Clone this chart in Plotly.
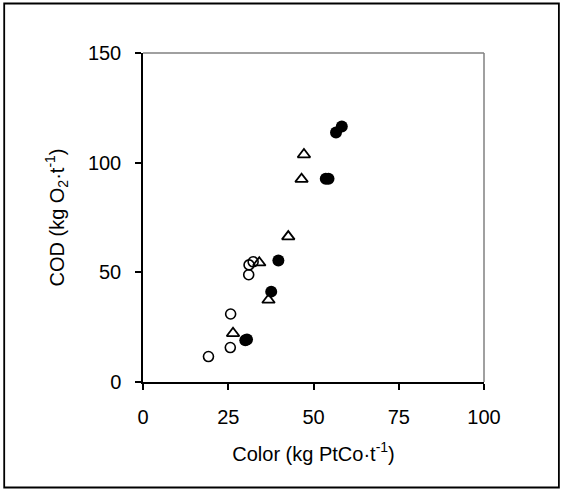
import plotly.graph_objects as go

# Open circles
open_x = [19.2, 25.6, 25.7, 31.0, 31.1, 32.3]
open_y = [11.6, 15.7, 31.0, 48.9, 53.4, 54.8]
# Open triangles
tri_x = [26.4, 34.1, 36.8, 42.6, 46.5, 47.2]
tri_y = [22.2, 54.4, 37.4, 66.3, 92.5, 103.7]
# Filled circles
fill_x = [30.0, 30.5, 37.6, 39.7, 53.6, 54.4, 56.6, 58.3]
fill_y = [19.0, 19.4, 41.2, 55.4, 92.7, 92.7, 113.8, 116.5]

x_ticks = [0, 25, 50, 75, 100]
y_ticks = [0, 50, 100, 150]

fig = go.Figure()
fig.add_trace(go.Scatter(x=open_x, y=open_y, mode="markers",
                         marker=dict(symbol="circle-open", size=10, color="black", line=dict(width=1.6))))
fig.add_trace(go.Scatter(x=tri_x, y=tri_y, mode="markers",
                         marker=dict(symbol="triangle-up-open", size=11, color="black", line=dict(width=1.8))))
fig.add_trace(go.Scatter(x=fill_x, y=fill_y, mode="markers",
                         marker=dict(symbol="circle", size=12, color="black")))

font = dict(family="Liberation Sans, Arial, sans-serif", size=20, color="black")

W, H = 562, 491
ml, mr, mt, mb = 142.5, 78, 53, 109
pw, ph = W - ml - mr, H - mt - mb

def px(x):
    return (x - ml) / pw

def py(y):
    return (H - mb - y) / ph

fig.update_layout(
    width=W, height=H,
    margin=dict(l=ml, r=mr, t=mt, b=mb),
    paper_bgcolor="white", plot_bgcolor="white",
    showlegend=False,
    font=font,
    xaxis=dict(range=[0, 100], tickvals=x_ticks, showgrid=False, zeroline=False,
               showline=True, linecolor="black", linewidth=1.5,
               ticks="outside", ticklen=6, tickwidth=1.5, tickcolor="black",
               tickfont=font, ticklabelstandoff=10,
               title=dict(text="Color (kg PtCo·t<sup>-1</sup>)", font=font, standoff=20)),
    yaxis=dict(range=[0, 150], tickvals=y_ticks, showgrid=False, zeroline=False,
               showline=True, linecolor="black", linewidth=1.5,
               ticks="outside", ticklen=6, tickwidth=1.5, tickcolor="black",
               tickfont=font, ticklabelstandoff=10,
               title=dict(text="COD (kg O<sub>2</sub>·t<sup>-1</sup>)", font=font, standoff=18)),
    shapes=[
        dict(type="line", xref="paper", yref="paper", x0=0, x1=1, y0=1, y1=1,
             line=dict(color="#808080", width=1.5)),
        dict(type="line", xref="paper", yref="paper", x0=1, x1=1, y0=0, y1=1,
             line=dict(color="#808080", width=1.5)),
        dict(type="rect", xref="paper", yref="paper",
             x0=px(3.5), x1=px(559), y0=py(487.5), y1=py(3.5),
             line=dict(color="black", width=1.8)),
    ],
)

fig.write_html("out.html",
               config={"displayModeBar": False},
               post_script="document.body.style.margin='0';document.body.style.overflow='hidden';")
